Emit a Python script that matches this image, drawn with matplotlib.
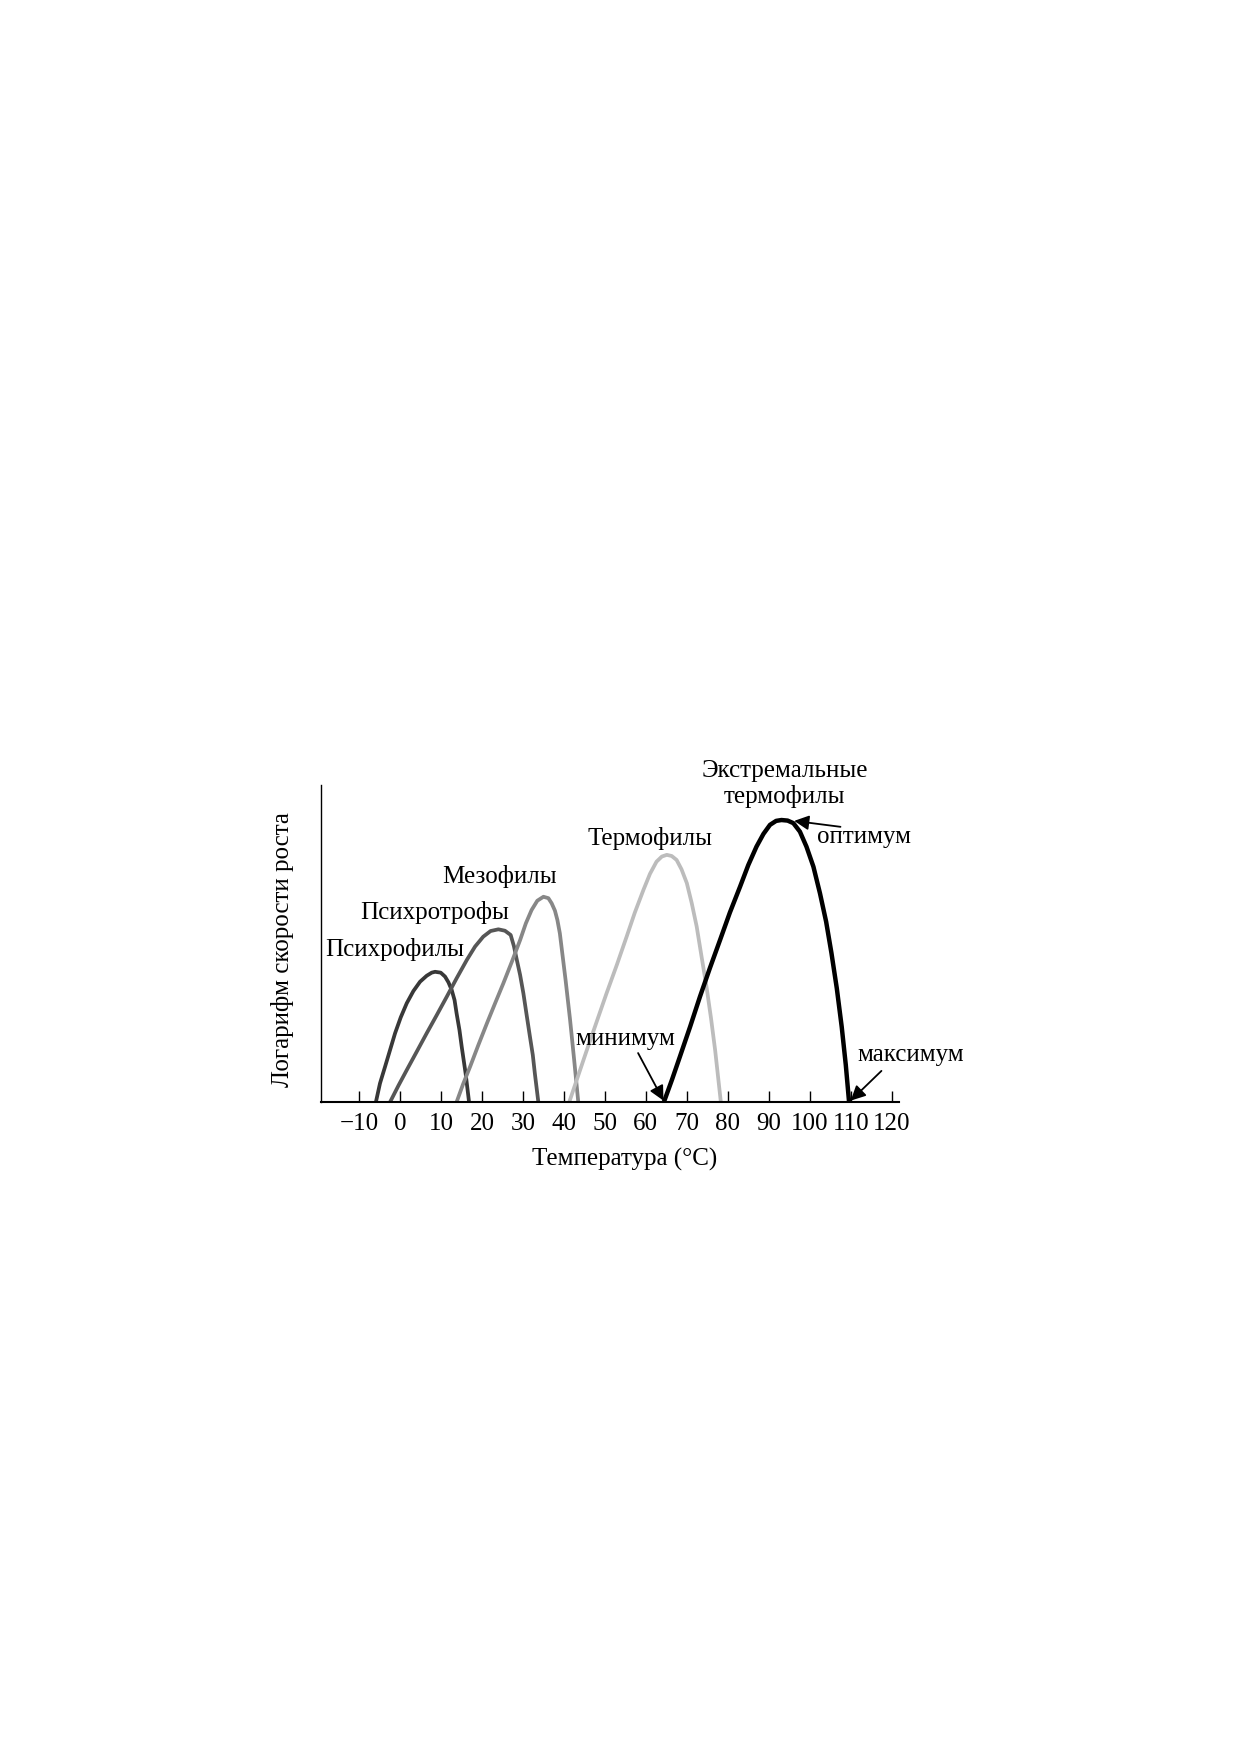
import matplotlib
matplotlib.use("Agg")
import matplotlib.pyplot as plt

plt.rcParams['font.family'] = ['Liberation Serif', 'DejaVu Serif']

# ---- data (temperature °C, log growth rate in relative units) ----
psychrophile_T = [-5.9, -4.9, -3.66, -2.44, -1.22, 0.16, 1.63, 3.25, 4.88, 6.5, 7.73, 8.54,
                  9.92, 10.98, 11.8, 12.6, 13.3, 13.8, 14.5, 15.05, 16.0, 16.84]
psychrophile_H = [0.0, 0.66, 1.25, 1.84, 2.43, 2.99, 3.49, 3.92, 4.25, 4.46, 4.57, 4.6,
                  4.57, 4.43, 4.23, 3.96, 3.6, 3.13, 2.54, 1.95, 1.01, 0.0]

psychrotroph_T = [-2.44, -0.4, 1.63, 4.07, 6.5, 8.95, 11.4, 13.8, 16.3, 18.3, 20.3, 22.1,
                  24.0, 25.6, 27.0, 27.8, 28.5, 29.3, 30.1, 30.9, 31.7, 32.4, 32.9, 33.75]
psychrotroph_H = [0.0, 0.58, 1.13, 1.78, 2.43, 3.07, 3.72, 4.37, 5.02, 5.49, 5.84, 6.04,
                  6.1, 6.05, 5.9, 5.5, 5.02, 4.49, 3.84, 3.07, 2.31, 1.66, 1.01, 0.0]

mesophile_T = [13.8, 15.4, 17.1, 19.1, 21.2, 23.2, 25.2, 27.3, 29.3, 30.7, 32.1, 33.5,
               35.0, 36.2, 37.0, 37.8, 38.4, 39.0, 39.4, 40.4, 41.5, 42.5, 43.5]
mesophile_H = [0.0, 0.64, 1.25, 2.01, 2.78, 3.49, 4.19, 4.96, 5.72, 6.31, 6.78, 7.11,
               7.25, 7.2, 7.02, 6.76, 6.43, 5.96, 5.49, 4.31, 2.9, 1.48, 0.0]

thermophile_T = [41.3, 45.6, 48.0, 50.4, 52.9, 55.3, 57.3, 59.4, 61.0, 62.6, 63.9, 65.1,
                 66.3, 67.5, 68.7, 70.0, 71.2, 72.4, 73.6, 74.8, 75.9, 76.9, 78.3]
thermophile_H = [0.0, 1.84, 2.84, 3.84, 4.84, 5.84, 6.69, 7.49, 8.06, 8.49, 8.67, 8.73,
                 8.69, 8.55, 8.22, 7.73, 7.02, 6.2, 5.13, 4.07, 2.96, 1.84, 0.0]

extreme_T = [64.4, 66.4, 68.3, 70.8, 73.2, 75.6, 78.1, 80.5, 83.0, 85.0, 87.0, 88.7, 90.3,
             91.8, 93.1, 94.6, 96.0, 97.6, 99.2, 100.9, 102.5, 104.0, 105.3, 106.6, 107.8,
             108.8, 109.6]
extreme_H = [0.0, 0.8, 1.6, 2.66, 3.72, 4.72, 5.72, 6.69, 7.61, 8.37, 9.02, 9.47, 9.79,
             9.93, 9.96, 9.94, 9.85, 9.55, 9.02, 8.31, 7.37, 6.37, 5.26, 4.02, 2.66,
             1.31, 0.0]

tick_values = [-10, 0, 10, 20, 30, 40, 50, 60, 70, 80, 90, 100, 110, 120]
tick_labels = ["\u221210", "0", "10", "20", "30", "40", "50", "60", "70", "80", "90", "100", "110", "120"]

curve_names = ["Психрофилы", "Психротрофы", "Мезофилы", "Термофилы", "Экстремальные\nтермофилы"]
curve_colors = ["#383838", "#565656", "#878787", "#bcbcbc", "#000000"]

# ---- figure ----
fig = plt.figure(figsize=(12.37, 17.54), dpi=100)
ax = fig.add_axes([0.2595, 0.3717, 0.4673, 0.1808])

series = [(psychrophile_T, psychrophile_H), (psychrotroph_T, psychrotroph_H),
          (mesophile_T, mesophile_H), (thermophile_T, thermophile_H),
          (extreme_T, extreme_H)]
widths = [2.7, 2.7, 2.7, 2.7, 3.2]
for (t, h), c, w in zip(series, curve_colors, widths):
    ax.plot(t, h, color=c, lw=w, clip_on=False, solid_joinstyle='round',
            solid_capstyle='butt')

ax.set_xlim(-19.3, 121.8)
ax.set_ylim(0, 11.2)
for s in ['top', 'right']:
    ax.spines[s].set_visible(False)
ax.spines['left'].set_linewidth(1.0)
ax.spines['bottom'].set_linewidth(1.5)
ax.set_yticks([])
ax.set_xticks(tick_values)
ax.set_xticklabels(tick_labels)
ax.tick_params(axis='x', direction='in', length=8, width=1.0, pad=8, labelsize=18)

fs = 18
ax.text(-1.2, (1102 - 956) / 28.3, curve_names[0], ha='center', va='baseline', fontsize=fs)
ax.text(8.5, (1102 - 919.3) / 28.3, curve_names[1], ha='center', va='baseline', fontsize=fs)
ax.text(24.4, (1102 - 882.7) / 28.3, curve_names[2], ha='center', va='baseline', fontsize=fs)
ax.text(61.0, (1102 - 845) / 28.3, curve_names[3], ha='center', va='baseline', fontsize=fs)
ext_lines = curve_names[4].split("\n")
ax.text(93.9, (1102 - 776.7) / 28.3, ext_lines[0], ha='center', va='baseline', fontsize=fs)
ax.text(93.9, (1102 - 803.3) / 28.3, ext_lines[1], ha='center', va='baseline', fontsize=fs)

arrow = dict(arrowstyle='-|>', color='black', lw=1.3, mutation_scale=22,
             shrinkA=0, shrinkB=0)
ax.annotate("", xy=(96.2, 9.93), xytext=(107.5, 9.72), arrowprops=arrow,
            annotation_clip=False)
ax.text(113.2, (1102 - 843.3) / 28.3, "оптимум", ha='center', va='baseline', fontsize=fs)

ax.annotate("", xy=(64.3, 0.05), xytext=(58.1, 1.73), arrowprops=arrow,
            annotation_clip=False)
ax.text(54.9, (1102 - 1045) / 28.3, "минимум", ha='center', va='baseline', fontsize=fs)

ax.annotate("", xy=(110.0, 0.05), xytext=(117.5, 1.1), arrowprops=arrow,
            annotation_clip=False)
ax.text(124.6, (1102 - 1060.7) / 28.3, "максимум", ha='center', va='baseline', fontsize=fs)

fig.text(625 / 1237, 1 - 1166 / 1754, "Температура (°C)", ha='center', va='baseline', fontsize=fs)
fig.text(282 / 1237, 1 - 950 / 1754, "Логарифм скорости роста", rotation=90,
         ha='center', va='center', fontsize=fs)

fig.savefig("out.png", dpi=100, facecolor='white')
